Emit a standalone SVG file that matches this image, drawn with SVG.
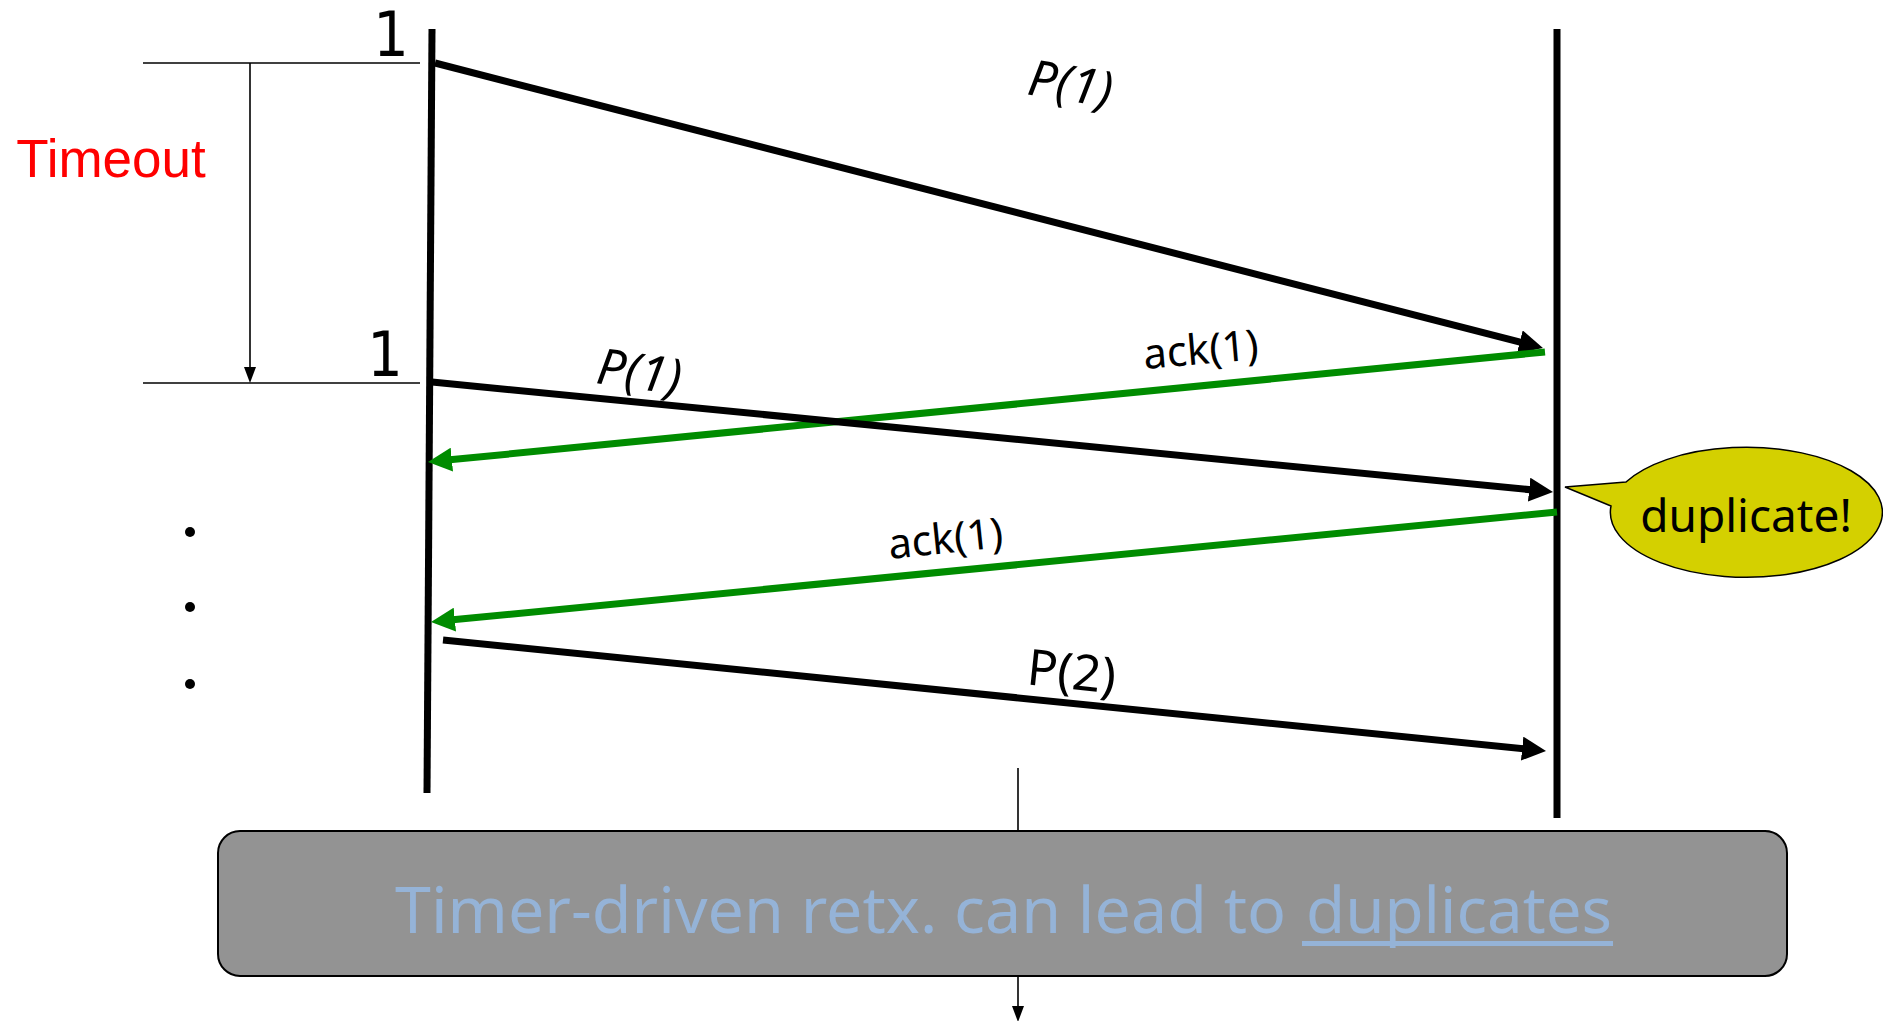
<svg xmlns="http://www.w3.org/2000/svg" width="1883" height="1021" viewBox="0 0 1883 1021">
<style>
.tl{stroke:#000;stroke-width:7;fill:none}
.thin{stroke:#000;stroke-width:1.6;fill:none}
.msg{stroke:#000;stroke-width:7;fill:none;marker-end:url(#ahB)}
.ack{stroke:#008c00;stroke-width:7;fill:none;marker-end:url(#ahG)}
.lbl{font-family:"Noto Sans","Open Sans",sans-serif;fill:#000;text-anchor:middle}
.num{font-family:"DejaVu Sans Condensed","DejaVu Sans",sans-serif;font-size:62px;fill:#000;text-anchor:middle}
</style>
<defs>
<marker id="ahB" markerUnits="userSpaceOnUse" viewBox="0 0 24 24" markerWidth="24" markerHeight="24" refX="10" refY="12" orient="auto"><path d="M0,0 L24,12 L0,24 z" fill="#000"/></marker>
<marker id="ahG" markerUnits="userSpaceOnUse" viewBox="0 0 24 24" markerWidth="24" markerHeight="24" refX="10" refY="12" orient="auto"><path d="M0,0 L24,12 L0,24 z" fill="#008c00"/></marker>
<marker id="ahS" markerUnits="userSpaceOnUse" viewBox="0 0 16 12" markerWidth="16" markerHeight="12" refX="4" refY="6" orient="auto"><path d="M0,0 L16,6 L0,12 z" fill="#000"/></marker>
</defs>

<g id="timelines">
<line class="tl" x1="432" y1="29" x2="427" y2="793"/>
<line class="tl" x1="1557" y1="29" x2="1557" y2="818"/>
</g>

<g id="timeout">
<line class="thin" x1="143" y1="63" x2="420" y2="63"/>
<line class="thin" x1="143" y1="383" x2="420" y2="383"/>
<line class="thin" x1="250" y1="63" x2="250" y2="371" marker-end="url(#ahS)"/>
<text x="111" y="177" font-family="Liberation Sans, Arial, sans-serif" font-size="53" fill="#ff0000" text-anchor="middle">Timeout</text>
<text class="num" x="391" y="56">1</text>
<text class="num" x="385" y="376">1</text>
<circle cx="190" cy="532" r="5"/>
<circle cx="190" cy="607" r="5"/>
<circle cx="190" cy="684" r="5"/>
</g>

<g id="connectors">
<line class="msg" x1="435" y1="63" x2="1529.4" y2="344.5"/>
<line class="ack" x1="1545" y1="352" x2="441.9" y2="460.6"/>
<line class="msg" x1="432" y1="382" x2="1539.1" y2="490.6"/>
<line class="ack" x1="1557" y1="512" x2="444.9" y2="620.6"/>
<line class="msg" x1="443" y1="640" x2="1532.1" y2="749.6"/>
<line class="thin" x1="1018" y1="768" x2="1018" y2="831"/>
<line class="thin" x1="1018" y1="976" x2="1018" y2="1010" marker-end="url(#ahS)"/>
</g>

<g id="labels">
<text class="lbl" font-size="50" font-style="italic" transform="translate(1068,101) rotate(9)">P(1)</text>
<text class="lbl" font-size="50" font-style="italic" transform="translate(637,389) rotate(8)">P(1)</text>
<text class="lbl" font-size="42" transform="translate(1202,364) rotate(-5)">ack(1)</text>
<text class="lbl" font-size="42" transform="translate(947,553) rotate(-6)">ack(1)</text>
<text class="lbl" font-size="50" transform="translate(1070,689) rotate(6)">P(2)</text>
</g>

<g id="bubble">
<path d="M1626,482 L1565,487 L1611,506 A136,65 0 1 0 1626,482 Z" fill="#d4d000" stroke="#000" stroke-width="1.5"/>
<text class="lbl" x="1746" y="532" font-size="46">duplicate!</text>
</g>

<g id="note">
<rect x="218" y="831" width="1569" height="145" rx="22" ry="22" fill="#939393" stroke="#000" stroke-width="2"/>
<text x="395" y="933" font-family="Noto Sans, Open Sans, sans-serif" font-size="64" fill="#95b3d7" textLength="891" lengthAdjust="spacingAndGlyphs">Timer-driven retx. can lead to</text>
<text x="1306" y="933" font-family="Noto Sans, Open Sans, sans-serif" font-size="64" fill="#95b3d7" textLength="306" lengthAdjust="spacingAndGlyphs">duplicates</text>
<rect x="1302" y="941" width="311" height="5" fill="#95b3d7"/>
</g>
</svg>
